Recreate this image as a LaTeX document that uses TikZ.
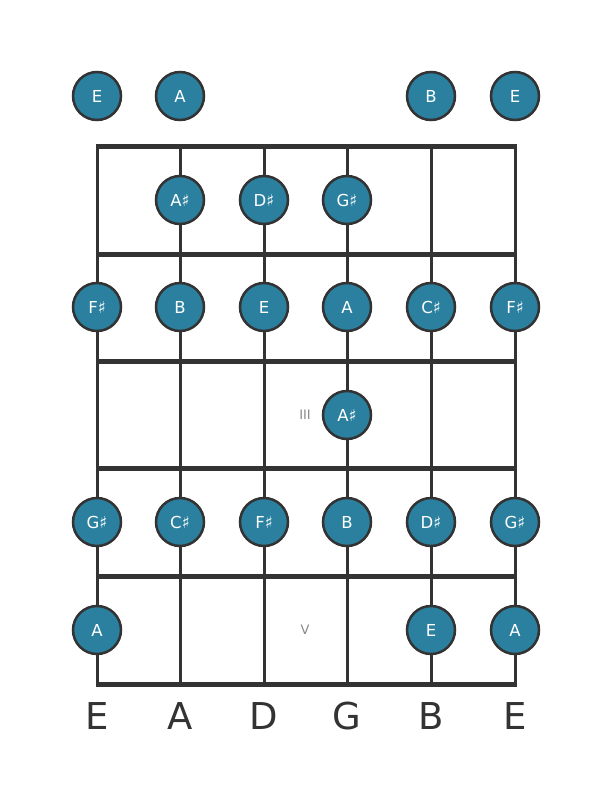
\documentclass[tikz,border=0pt]{standalone}
\usepackage{fontspec}
\setmainfont{DejaVu Sans}
\definecolor{noteteal}{HTML}{2A809E}
\definecolor{boardgray}{HTML}{333333}
\definecolor{markgray}{HTML}{888888}
\tikzset{
	note/.style={circle, draw=boardgray, line width=2.5pt, fill=noteteal,
		minimum size=48pt, inner sep=0pt, text=white, font=\fontsize{16.5}{16.5}\selectfont},
	fretmark/.style={text=markgray, font=\fontsize{13}{13}\selectfont},
	tuning/.style={text=boardgray, font=\fontsize{37}{37}\selectfont}
}
\begin{document}
\begin{tikzpicture}[x=1pt, y=-1pt]
	\useasboundingbox (0,0) rectangle (611,801);

	% strings
	\draw[color=boardgray, line width=3pt]
		\foreach \x in {97,180,264,347,431,515}{
			(\x,146) -- (\x,684)
		};
	% frets
	\draw[color=boardgray, line width=5pt]
		\foreach \y in {146,254,361,468,576,684}{
			(95.5,\y) -- (516.5,\y)
		};

	% fret markers
	\node[fretmark] (mark3) at (305,415) {III};
	\node[fretmark] (mark5) at (305,630) {V};

	% open strings
	\foreach \x/\n [count=\i] in {97/E,180/A,431/B,515/E}{
		\node[note] (open\i) at (\x,96) {\n};
	}
	% fret 1
	\foreach \x/\n [count=\i] in {180/A♯,264/D♯,347/G♯}{
		\node[note] (fa\i) at (\x,200) {\n};
	}
	% fret 2
	\foreach \x/\n [count=\i] in {97/F♯,180/B,264/E,347/A,431/C♯,515/F♯}{
		\node[note] (fb\i) at (\x,307) {\n};
	}
	% fret 3
	\node[note] (fc1) at (347,415) {A♯};
	% fret 4
	\foreach \x/\n [count=\i] in {97/G♯,180/C♯,264/F♯,347/B,431/D♯,515/G♯}{
		\node[note] (fd\i) at (\x,522) {\n};
	}
	% fret 5
	\foreach \x/\n [count=\i] in {97/A,431/E,515/A}{
		\node[note] (fe\i) at (\x,630) {\n};
	}

	% tuning
	\foreach \x/\n [count=\i] in {97/E,180/A,264/D,347/G,431/B,515/E}{
		\node[tuning] (tune\i) at (\x,716) {\n};
	}
\end{tikzpicture}
\end{document}
